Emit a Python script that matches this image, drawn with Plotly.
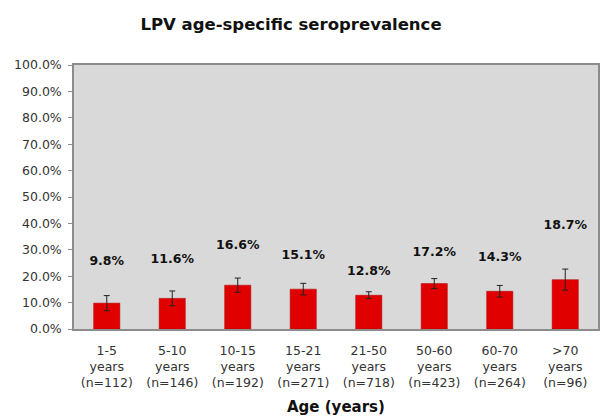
import plotly.graph_objects as go

# age groups and sample sizes
groups = ["1-5", "5-10", "10-15", "15-21", "21-50", "50-60", "60-70", ">70"]
n_sizes = [112, 146, 192, 271, 718, 423, 264, 96]

# seroprevalence (%) and error bar half-width (%)
prevalence = [9.8, 11.6, 16.6, 15.1, 12.8, 17.2, 14.3, 18.7]
err = [2.85, 2.8, 2.7, 2.2, 1.3, 1.9, 2.2, 4.0]

# label heights (%) as placed on the original chart
label_y = [25.4, 26.1, 31.4, 27.7, 21.6, 28.8, 26.9, 39.0]

y_ticks = [0, 10, 20, 30, 40, 50, 60, 70, 80, 90, 100]

cats = [f"{g}<br>years<br>(n={n})" for g, n in zip(groups, n_sizes)]

fig = go.Figure()

fig.add_trace(go.Bar(
    x=cats,
    y=prevalence,
    width=0.4,
    marker=dict(color="#e00000", line=dict(color="#b00000", width=0.5)),
    error_y=dict(type="data", array=err, color="#222222", thickness=1, width=3),
    showlegend=False,
    hoverinfo="skip",
))

fig.add_trace(go.Scatter(
    x=cats,
    y=label_y,
    mode="text",
    text=[f"{v:.1f}%" for v in prevalence],
    textfont=dict(family="DejaVu Sans", size=12.5, color="#111111", weight="bold"),
    showlegend=False,
    hoverinfo="skip",
))

fig.add_annotation(
    text="<b>Age (years)</b>",
    x=0.5, xref="paper", xanchor="center",
    y=-0.295, yref="paper", yanchor="middle",
    showarrow=False,
    font=dict(size=15, color="#111111"),
)

fig.update_layout(
    width=604,
    height=419,
    margin=dict(l=74, r=6, t=65, b=90),
    paper_bgcolor="white",
    plot_bgcolor="#d9d9d9",
    font=dict(family="DejaVu Sans", size=12.5, color="#333333"),
    title=dict(
        text="<b>LPV age-specific seroprevalence</b>",
        x=291 / 604, xanchor="center", y=1 - 24 / 419, yanchor="middle",
        font=dict(size=16.5, color="#111111"),
    ),
    xaxis=dict(
        automargin=False,
        showgrid=False,
        showline=True, linecolor="#8c8c8c", linewidth=1.5, mirror=True,
        ticks="", ticklabelstandoff=9,
        tickfont=dict(size=12.5, color="#333333"),
    ),
    yaxis=dict(
        automargin=False,
        range=[0, 100],
        tickvals=y_ticks,
        ticktext=[f"{v:.1f}%" for v in y_ticks],
        showgrid=False, zeroline=False,
        showline=True, linecolor="#8c8c8c", linewidth=1.5, mirror=True,
        ticks="outside", ticklen=4, tickcolor="#8c8c8c", ticklabelstandoff=4,
        tickfont=dict(size=12.5, color="#333333"),
    ),
)

# drop the default page margin so the figure sits at the window's corner
fig.write_html(
    "out.html",
    config={"displayModeBar": False},
    post_script="document.body.style.margin='0';",
)
